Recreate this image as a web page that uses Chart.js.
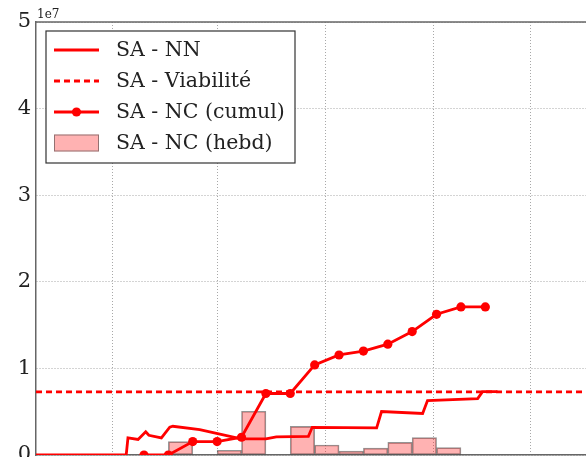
<!DOCTYPE html>
<html>
<head>
<meta charset="utf-8">
<script src="https://cdn.jsdelivr.net/npm/chart.js@4.4.1/dist/chart.umd.min.js"></script>
<style>
  html, body { margin: 0; padding: 0; overflow: hidden; background: #fff; }
  #wrap { position: absolute; left: 0; top: 0; width: 600px; height: 470px; }
</style>
</head>
<body>
<div id="wrap"><canvas id="c" width="600" height="470"></canvas></div>
<script>
// Time axis in days; vertical grid at the first day of each month
const xMax = 160.6;
const monthStarts = [22, 52, 83, 114, 142];
// Y ticks, shown in units of 1e7
const yTickValues = [0, 1e7, 2e7, 3e7, 4e7, 5e7];

// SA - NC: weekly points (cumulative) and weekly increments (millions)
const weekDays = [31, 38, 45, 52, 59, 66, 73, 80, 87, 94, 101, 108, 115, 122, 129];
const ncCumul  = [0, 0, 1.55, 1.55, 2.05, 7.1, 7.1, 10.4, 11.55, 12.0, 12.8, 14.25, 16.25, 17.1, 17.1];
const ncWeekly = [0, 1.55, 0, 0.55, 5.05, 0, 3.3, 1.15, 0.45, 0.8, 1.45, 2.0, 0.85, 0];

// SA - NN daily curve (millions)
const nnDays   = [0, 25.9, 26.4, 29.3, 31.5, 32.4, 36.0, 38.4, 39.3, 47.0, 58.9, 66.0, 69.0, 78.2, 79.3, 97.8, 99.2, 111.0, 112.4, 126.8, 128.2, 132.5];
const nnValues = [0, 0, 1.98, 1.79, 2.68, 2.28, 1.98, 3.21, 3.32, 2.94, 1.87, 1.87, 2.10, 2.16, 3.20, 3.13, 5.02, 4.79, 6.29, 6.52, 7.32, 7.32];

// SA - Viabilité threshold (millions)
const viability = 7.3;

const M = 1e6;
const RED = '#ff0000';
const serif = '"DejaVu Serif", "Liberation Serif", serif';

const datasets = [
  {
    label: 'SA - NN', type: 'line', order: 2,
    data: nnDays.map((d, i) => ({ x: d, y: nnValues[i] * M })),
    borderColor: RED, borderWidth: 2.8, pointRadius: 0, tension: 0, fill: false
  },
  {
    label: 'SA - Viabilité', type: 'line', order: 3,
    data: [{ x: 0, y: viability * M }, { x: xMax, y: viability * M }],
    borderColor: RED, borderWidth: 2.8, borderDash: [6, 4], pointRadius: 0, fill: false
  },
  {
    label: 'SA - NC (cumul)', type: 'line', order: 1,
    data: weekDays.map((d, i) => ({ x: d, y: ncCumul[i] * M })),
    borderColor: RED, borderWidth: 2.8, pointRadius: 4.6,
    pointBackgroundColor: RED, pointBorderColor: RED, pointBorderWidth: 0, tension: 0, fill: false
  },
  {
    label: 'SA - NC (hebd)', type: 'bar', order: 4,
    data: ncWeekly.map((v, i) => ({ x: weekDays[i + 1] - 3.5, y: v * M })),
    backgroundColor: 'rgba(255, 0, 0, 0.3)', borderColor: 'rgba(60, 60, 60, 0.55)',
    borderWidth: 1, borderSkipped: false, barPercentage: 1, categoryPercentage: 1
  }
];

// Axes frame top edge, exponent label and the in-plot legend
const frameAndLegend = {
  id: 'frameAndLegend',
  afterDraw(chart) {
    const { ctx, chartArea: a } = chart;
    ctx.save();
    ctx.strokeStyle = '#666';
    ctx.lineWidth = 1.5;
    ctx.beginPath();
    ctx.moveTo(a.left, a.top);
    ctx.lineTo(a.right, a.top);
    ctx.stroke();

    ctx.fillStyle = '#222';
    ctx.font = '12px ' + serif;
    ctx.textBaseline = 'alphabetic';
    ctx.textAlign = 'left';
    ctx.fillText('1e7', a.left + 1, a.top - 4);

    const bx = a.left + 10, by = a.top + 9, bw = 249, bh = 132;
    ctx.fillStyle = '#fff';
    ctx.fillRect(bx, by, bw, bh);
    ctx.strokeStyle = '#333';
    ctx.lineWidth = 1.2;
    ctx.strokeRect(bx, by, bw, bh);

    const sx0 = bx + 8, sx1 = bx + 53, tx = bx + 70;
    chart.data.datasets.forEach((ds, i) => {
      const cy = by + 19 + i * 31;
      ctx.save();
      if (ds.type === 'bar') {
        ctx.fillStyle = ds.backgroundColor;
        ctx.fillRect(sx0, cy - 8.5, sx1 - sx0, 17);
        ctx.strokeStyle = ds.borderColor;
        ctx.lineWidth = 1;
        ctx.strokeRect(sx0 + 0.5, cy - 8, sx1 - sx0 - 1, 16);
      } else {
        ctx.strokeStyle = ds.borderColor;
        ctx.lineWidth = ds.borderWidth;
        ctx.setLineDash(ds.borderDash || []);
        ctx.beginPath();
        ctx.moveTo(sx0, cy);
        ctx.lineTo(sx1, cy);
        ctx.stroke();
        if (ds.pointRadius > 0) {
          ctx.fillStyle = ds.pointBackgroundColor;
          ctx.beginPath();
          ctx.arc((sx0 + sx1) / 2, cy, ds.pointRadius, 0, Math.PI * 2);
          ctx.fill();
        }
      }
      ctx.restore();
      ctx.fillStyle = '#222';
      ctx.font = '20.5px ' + serif;
      ctx.textBaseline = 'middle';
      ctx.fillText(ds.label, tx, cy + 1);
    });
    ctx.restore();
  }
};

new Chart(document.getElementById('c'), {
  type: 'line',
  data: { datasets },
  options: {
    responsive: false,
    animation: false,
    events: [],
    layout: { padding: { top: 22, left: 0, right: 0, bottom: 0 } },
    plugins: { legend: { display: false }, tooltip: { enabled: false } },
    scales: {
      x: {
        type: 'linear', min: 0, max: xMax, offset: false,
        afterBuildTicks: s => { s.ticks = monthStarts.map(v => ({ value: v })); },
        afterFit: s => { s.height = 15; s.paddingLeft = 0; s.paddingRight = 0; },
        ticks: { display: false },
        grid: { color: '#a8a8a8', lineWidth: 1, drawTicks: false, offset: false },
        border: { display: true, color: '#666', width: 1.5, dash: [1, 2] }
      },
      y: {
        type: 'linear', min: 0, max: 5e7,
        afterBuildTicks: s => { s.ticks = yTickValues.map(v => ({ value: v })); },
        afterFit: s => { s.width = 36; s.paddingTop = 0; s.paddingBottom = 0; },
        ticks: {
          callback: v => String(v / 1e7),
          font: { family: serif, size: 21 },
          color: '#222',
          padding: 5
        },
        grid: { color: '#a8a8a8', lineWidth: 1, drawTicks: false },
        border: { display: true, color: '#666', width: 1.5, dash: [1, 2] }
      }
    }
  },
  plugins: [frameAndLegend]
});
</script>
</body>
</html>
